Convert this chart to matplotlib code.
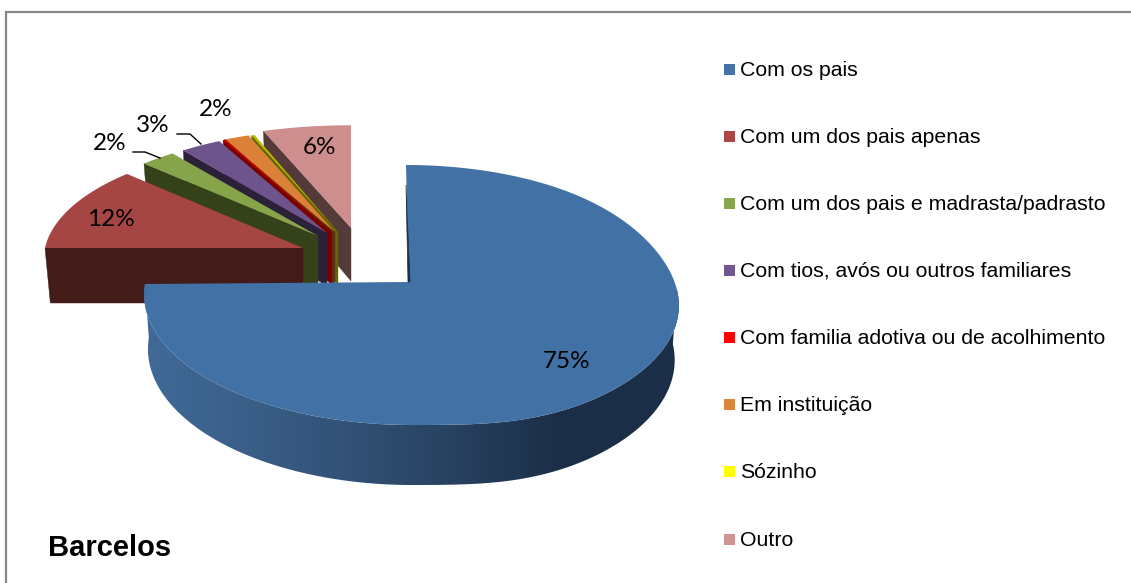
import numpy as np
import matplotlib
matplotlib.use("Agg")
import matplotlib.pyplot as plt
from matplotlib.patches import Rectangle, Polygon
from matplotlib.colors import to_rgb

title = "Barcelos"
categories = ["Com os pais", "Com um dos pais apenas", "Com um dos pais e madrasta/padrasto",
              "Com tios, avós ou outros familiares", "Com familia adotiva ou de acolhimento",
              "Em instituição", "Sózinho", "Outro"]
values = [75.0, 12.0, 2.45, 2.85, 0.2, 1.7, 0.2, 5.6]
legend_colors = ["#4572A7", "#AA4643", "#89A54E", "#71588F", "#FF0000", "#DB843D", "#FFFF00", "#D09492"]
top_colors = ["#4271A6", "#A54644", "#86A44A", "#6E548D", "#C00000", "#DA8137", "#B8B800", "#CE8E8D"]
wall_colors = ["#1B2E47", "#431C1A", "#344119", "#2B2138", "#7A0000", "#5A3513", "#666600", "#553A3A"]

# layout of the exploded pie, in pixels
apex = [(411, 282), (303, 248), (318, 236), (327, 233), (332, 232), (335, 232), (338, 232), (351, 228)]
radii = [(266, 128.7), (258, 115.6), (255, 113), (252, 113), (255, 113), (265, 113), (265, 113), (278, 113)]
shear = [-5, 0, 0, 0, 0, 0, 0, 0]
persp = 0.1
depth = [54, 55, 53, 53, 53, 53, 53, 53]
label_pos = [(567, 361), (111, 220), (110, 144), (153, 126), None, (216, 109), None, (320, 147)]

fig = plt.figure(figsize=(11.31, 5.83), dpi=100, facecolor="white")
ax = fig.add_axes([0, 0, 1, 1])
ax.set_xlim(0, 1131)
ax.set_ylim(583, 0)
ax.axis("off")

# chart frame
ax.plot([5.5, 5.5, 1131], [583, 11.5, 11.5], color="#868686", lw=1.6, solid_joinstyle="miter")


def project(i, clock_deg):
    a = np.radians(clock_deg)
    X, Y = np.sin(a), np.cos(a)
    s = 1 / (1 + persp * Y)
    rx, ry = radii[i]
    px = apex[i][0] + rx * X * s + shear[i] * Y
    py = apex[i][1] - ry * Y * s
    if i == 0:
        # the right side of the big slice sits a little lower than the left
        Xp = np.clip(X, 0, None)
        py = py + np.where(Y < 0, 8 * (1 - np.exp(-(Xp / 0.35) ** 2)), 8 * Xp ** 6) - 2 * np.clip(X, None, 0)
    return px, py, s


def bottom(i, px, py, s):
    return px + (400 - px) * 0.015, py + depth[i] * s


edges = np.cumsum([0] + values) / sum(values) * 360
zorder = [7, 6, 5, 4, 3, 2, 1, 0]

for i in range(len(values))[::-1]:
    z = zorder[i] * 3 + 2
    start, end = edges[i], edges[i + 1]
    arc = np.linspace(start, end, max(6, int((end - start) * 2)))
    px, py, s = project(i, arc)
    a0 = apex[i]
    if i == 0:
        # front wall with the left-to-right shading, as a clipped gradient image
        t = np.linspace(90, 270, 181)
        wx, wy, ws = project(i, t)
        bx, by = bottom(i, wx, wy, ws)
        stops_x = [144, 300, 430, 560, 680]
        dark = [to_rgb(c) for c in ["#416A98", "#36587F", "#2A4565", "#1B2E47", "#1B2F48"]]
        gx = np.arange(130, 690)
        grad = np.array([np.interp(gx, stops_x, [d[k] for d in dark]) for k in range(3)]).T[None, :, :]
        im = ax.imshow(grad, extent=(130, 690, 500, 270), aspect="auto", zorder=z, interpolation="bilinear")
        clip = Polygon(np.c_[np.r_[wx, bx[::-1]], np.r_[wy, by[::-1]]], closed=True, transform=ax.transData)
        im.set_clip_path(clip)
        ax.set_xlim(0, 1131)
        ax.set_ylim(583, 0)
        # sliver of the radial wall at twelve o'clock
        ox, oy, _ = project(i, 0.0)
        ax.fill([ox, a0[0] - 3, a0[0] - 1], [oy + 20, a0[1], a0[1]], color=wall_colors[i], lw=0.5, zorder=z + 1)
        ax.fill(np.r_[a0[0] - 2, px], np.r_[a0[1], py], color=top_colors[i], lw=0, zorder=z)
    else:
        # radial wall on the side of the slice that faces the viewer
        ox, oy, os_ = px[0], py[0], s[0]
        bx0, by0 = bottom(i, ox, oy, os_)
        ax.fill([a0[0], ox, bx0, a0[0]], [a0[1], oy, by0, a0[1] + depth[i]],
                color=wall_colors[i], lw=0.3, zorder=z)
        ax.fill(np.r_[a0[0], px], np.r_[a0[1], py], color=top_colors[i], lw=0, zorder=z + 1)

# value labels
for v, pos in zip(values, label_pos):
    if pos is not None:
        ax.text(pos[0], pos[1], f"{round(v)}%", family="Lato", fontsize=17.5, color="black",
                ha="center", va="center", zorder=40)

# leader lines
ax.plot([133, 145, 160], [152, 152, 158], color="black", lw=1, zorder=40)
ax.plot([177, 190, 201], [134, 134, 144], color="black", lw=1, zorder=40)

# legend
legend_y = np.linspace(69, 539, len(categories))
for name, col, y in zip(categories, legend_colors, legend_y):
    ax.add_patch(Rectangle((724, y - 5.5), 11, 11, facecolor=col, edgecolor="none", zorder=40))
    ax.text(740, y + 1, name, family="Liberation Sans", fontsize=15.35, color="black",
            ha="left", va="center", zorder=40)

ax.text(48, 548, title, family="Liberation Sans", fontweight="bold", fontsize=21,
        color="black", ha="left", va="center", zorder=40)

fig.savefig("out.png", dpi=100, facecolor="white")
